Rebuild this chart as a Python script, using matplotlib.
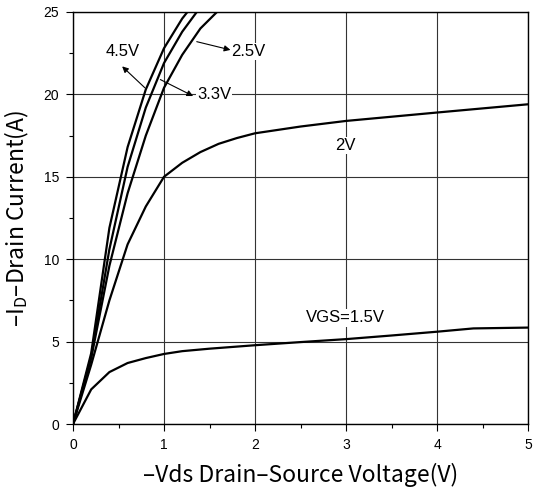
import numpy as np
import matplotlib
matplotlib.use('Agg')
import matplotlib.pyplot as plt
from matplotlib.ticker import MultipleLocator

plt.rcParams['mathtext.fontset'] = 'custom'
plt.rcParams['mathtext.rm'] = 'Noto Sans CJK SC'

## data

vds_15 = [0, 0.2, 0.4, 0.6, 0.8, 1.0, 1.2, 1.5, 2.0, 2.5, 3.0, 3.5, 4.0, 4.4, 5.0]
id_15 = [0, 2.1, 3.15, 3.7, 4.0, 4.25, 4.42, 4.57, 4.78, 4.97, 5.15, 5.37, 5.6, 5.8, 5.85]

vds_20 = [0, 0.2, 0.4, 0.6, 0.8, 1.0, 1.2, 1.4, 1.6, 1.8, 2.0, 2.5, 3.0, 4.0, 5.0]
id_20 = [0, 3.6, 7.5, 10.9, 13.2, 15.0, 15.85, 16.5, 17.0, 17.35, 17.64, 18.05, 18.39, 18.9, 19.4]

vds_25 = [0, 0.2, 0.4, 0.6, 0.8, 1.0, 1.2, 1.4, 1.6, 1.8]
id_25 = [0, 4.0, 9.6, 14.0, 17.5, 20.4, 22.4, 24.0, 25.1, 26.0]

vds_33 = [0, 0.2, 0.4, 0.6, 0.8, 1.0, 1.2, 1.4, 1.6]
id_33 = [0, 4.1, 10.6, 15.6, 19.2, 21.9, 23.8, 25.3, 26.5]

vds_45 = [0, 0.2, 0.4, 0.6, 0.8, 1.0, 1.2, 1.4]
id_45 = [0, 4.3, 11.9, 16.8, 20.3, 22.8, 24.6, 26.0]

## 

fig = plt.figure(figsize=(5.35, 4.95), dpi=100)
ax = fig.add_axes([73/535., 1-424/495., 455/535., 412/495.])

for v, i in [(vds_15, id_15), (vds_20, id_20), (vds_25, id_25),
             (vds_33, id_33), (vds_45, id_45)]:
    ax.plot(v, i, color='black', lw=1.6, solid_joinstyle='miter', zorder=3)

ax.set_xlim(0, 5)
ax.set_ylim(0, 25)
ax.xaxis.set_major_locator(MultipleLocator(1))
ax.xaxis.set_minor_locator(MultipleLocator(0.5))
ax.yaxis.set_major_locator(MultipleLocator(5))
ax.yaxis.set_minor_locator(MultipleLocator(2.5))
ax.grid(True, which='major', color='#333333', lw=0.8, zorder=1)
ax.tick_params(which='both', direction='out', width=0.8, color='black')
ax.tick_params(which='major', length=5, labelsize=10, pad=5)
ax.tick_params(which='minor', length=3)
for lab in ax.get_xticklabels() + ax.get_yticklabels():
    lab.set_family('Liberation Sans')
for s in ax.spines.values():
    s.set_linewidth(1.0)

lbl = dict(fontsize=12, family='Liberation Sans', ha='center', va='center', zorder=4)
box = dict(facecolor='white', edgecolor='none', pad=1)
ax.text(0.55, 22.6, '4.5V', **lbl)
ax.text(1.55, 20.0, '3.3V', bbox=box, **lbl)
ax.text(1.93, 22.6, '2.5V', bbox=box, **lbl)
ax.text(2.99, 16.9, '2V', bbox=box, **lbl)
ax.text(2.99, 6.45, 'VGS=1.5V', bbox=box, **lbl)

arr = dict(arrowstyle='-|>', color='black', lw=0.8, mutation_scale=9, shrinkA=0, shrinkB=0)
ax.annotate('', xy=(0.54, 21.7), xytext=(0.79, 20.4), arrowprops=arr, zorder=5)
ax.annotate('', xy=(1.32, 19.9), xytext=(0.96, 20.9), arrowprops=arr, zorder=5)
ax.annotate('', xy=(1.73, 22.7), xytext=(1.36, 23.2), arrowprops=arr, zorder=5)

ax.set_xlabel('–Vds Drain–Source Voltage(V)', family='Noto Sans CJK SC',
              fontsize=16.5, labelpad=8)
ax.set_ylabel(r'–I$_\mathregular{D}$–Drain Current(A)', family='Noto Sans CJK SC',
              fontsize=16.5, labelpad=9)

fig.savefig('out.png', dpi=100)
